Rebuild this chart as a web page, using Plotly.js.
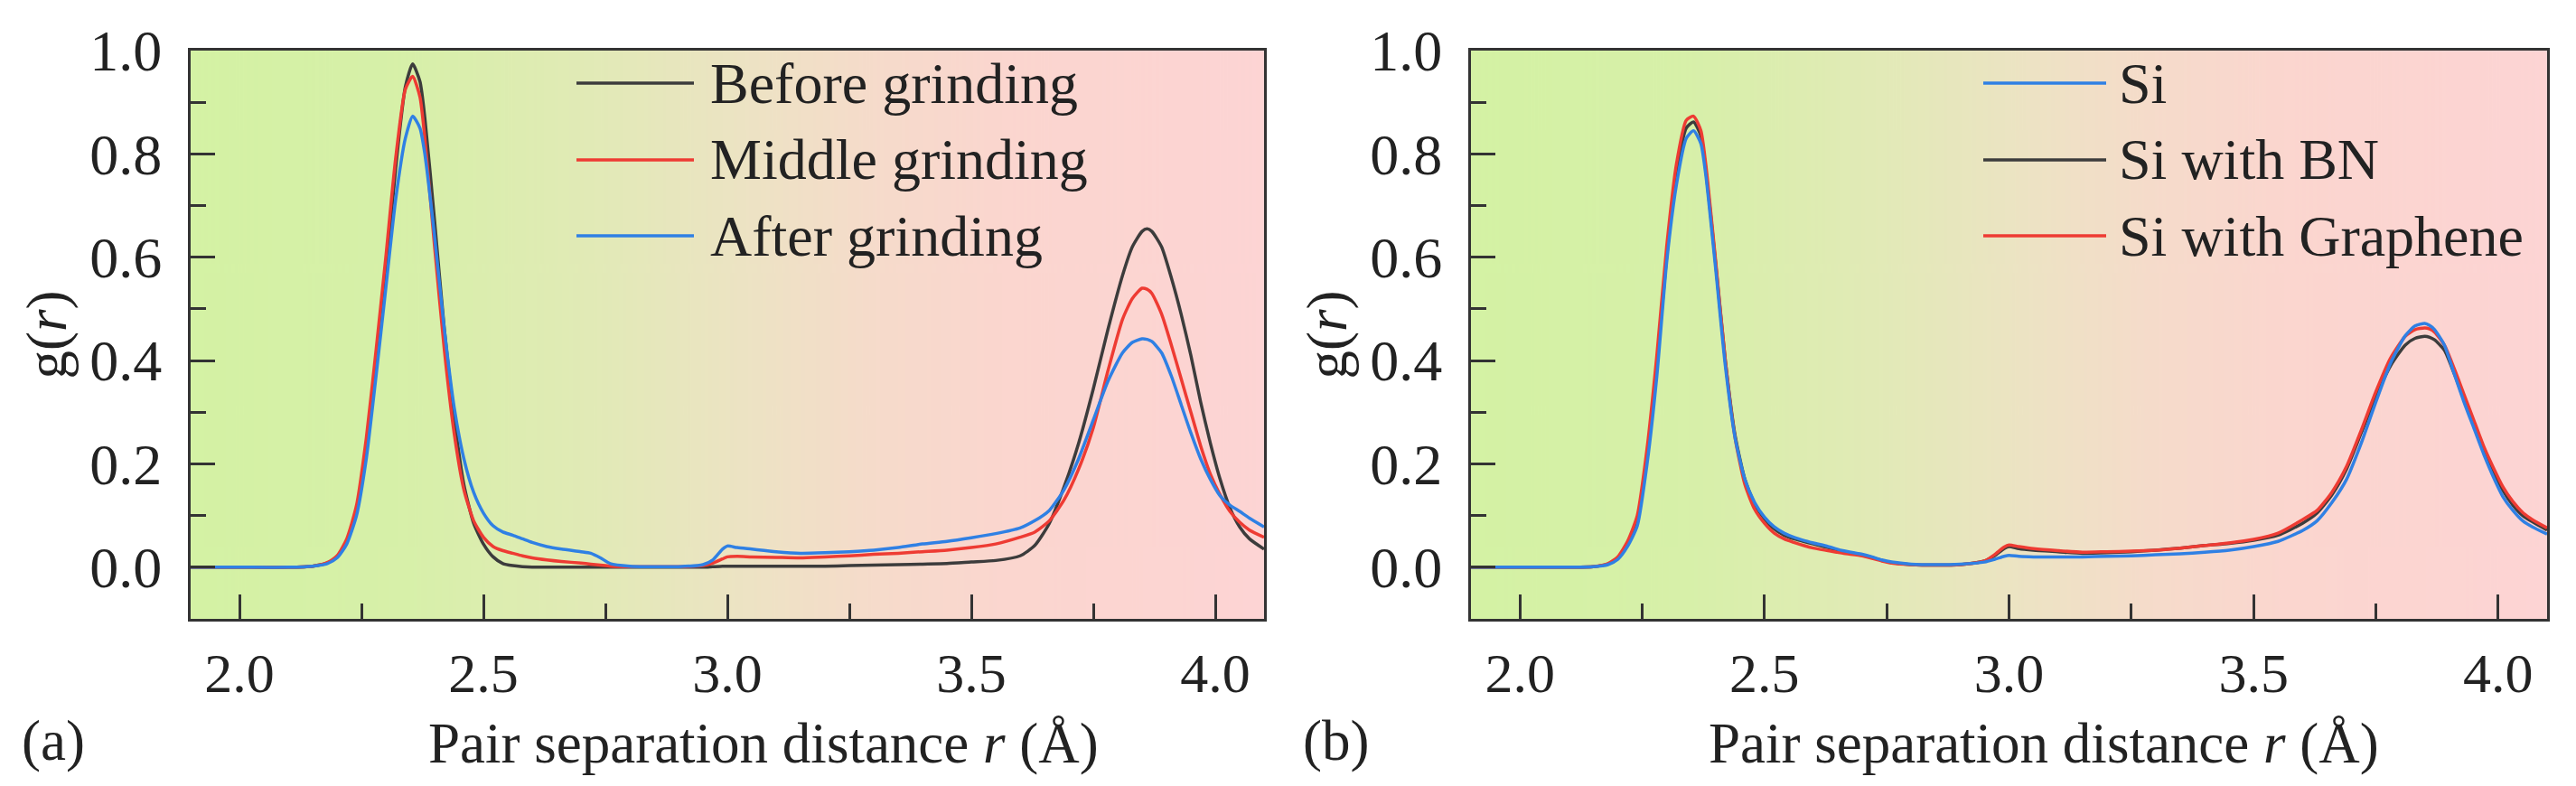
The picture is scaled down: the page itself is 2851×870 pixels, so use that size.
<!DOCTYPE html>
<html>
<head>
<meta charset="utf-8">
<script src="https://cdn.plot.ly/plotly-3.0.1.min.js"></script>
<style>
  html, body { margin: 0; padding: 0; background: #ffffff; }
  #chart { width: 2851px; height: 870px; }
</style>
</head>
<body>
<div id="chart"></div>
<script>
// pair distance r (Å), shared by every curve
const r = [1.90, 2.00, 2.10, 2.15, 2.18, 2.20, 2.22, 2.24, 2.26, 2.28,
           2.30, 2.32, 2.34, 2.355, 2.37, 2.38, 2.40, 2.42, 2.44, 2.46,
           2.48, 2.50, 2.52, 2.54, 2.56, 2.58, 2.60, 2.63, 2.66, 2.70,
           2.72, 2.74, 2.76, 2.80, 2.85, 2.90, 2.95, 2.97, 2.99, 3.00,
           3.02, 3.05, 3.10, 3.15, 3.20, 3.25, 3.30, 3.35, 3.40, 3.45,
           3.50, 3.55, 3.60, 3.63, 3.66, 3.69, 3.72, 3.75, 3.78, 3.81,
           3.83, 3.85, 3.86, 3.87, 3.89, 3.91, 3.93, 3.95, 3.97, 3.99,
           4.01, 4.03, 4.05, 4.07, 4.10];

// (a) grinding stages
const beforeGrinding = [0, 0, 0, 0.002, 0.008, 0.02, 0.05, 0.11, 0.23, 0.40,
           0.57, 0.77, 0.93, 0.974, 0.94, 0.87, 0.67, 0.46, 0.29, 0.16,
           0.085, 0.045, 0.02, 0.007, 0.003, 0.001, 0, 0, 0, 0,
           0, 0, 0, 0, 0, 0, 0, 0.001, 0.002, 0.002,
           0.002, 0.002, 0.002, 0.002, 0.002, 0.003, 0.004, 0.005, 0.006, 0.007,
           0.01, 0.013, 0.022, 0.042, 0.085, 0.155, 0.24, 0.345, 0.46, 0.565,
           0.62, 0.65, 0.655, 0.65, 0.62, 0.56, 0.49, 0.41, 0.32, 0.24,
           0.17, 0.115, 0.078, 0.055, 0.035];
const middleGrinding = [0, 0, 0, 0.002, 0.009, 0.022, 0.055, 0.12, 0.25, 0.42,
           0.60, 0.79, 0.925, 0.95, 0.91, 0.83, 0.62, 0.42, 0.26, 0.15,
           0.09, 0.058, 0.04, 0.032, 0.027, 0.022, 0.018, 0.014, 0.011, 0.008,
           0.006, 0.004, 0.002, 0.001, 0.001, 0.001, 0.003, 0.008, 0.016, 0.02,
           0.021, 0.02, 0.019, 0.018, 0.02, 0.022, 0.025, 0.027, 0.03, 0.033,
           0.038, 0.045, 0.058, 0.068, 0.09, 0.13, 0.19, 0.27, 0.38, 0.48,
           0.52, 0.54, 0.538, 0.53, 0.49, 0.43, 0.365, 0.30, 0.235, 0.18,
           0.14, 0.108, 0.087, 0.072, 0.058];
const afterGrinding = [0, 0, 0, 0.002, 0.007, 0.018, 0.045, 0.10, 0.21, 0.37,
           0.54, 0.71, 0.83, 0.873, 0.85, 0.80, 0.64, 0.46, 0.31, 0.21,
           0.145, 0.105, 0.08, 0.068, 0.062, 0.055, 0.048, 0.04, 0.035, 0.03,
           0.027, 0.018, 0.007, 0.002, 0.001, 0.001, 0.005, 0.014, 0.035, 0.041,
           0.038, 0.035, 0.03, 0.027, 0.028, 0.03, 0.033, 0.038, 0.045, 0.05,
           0.057, 0.065, 0.076, 0.09, 0.11, 0.15, 0.21, 0.285, 0.36, 0.415,
           0.435, 0.442, 0.441, 0.437, 0.415, 0.37, 0.315, 0.26, 0.21, 0.17,
           0.138, 0.12, 0.108, 0.095, 0.078];

// (b) additives
const si = [0, 0, 0, 0.001, 0.005, 0.015, 0.04, 0.08, 0.20, 0.37,
           0.59, 0.74, 0.83, 0.845, 0.82, 0.76, 0.58, 0.39, 0.25, 0.17,
           0.125, 0.097, 0.078, 0.066, 0.058, 0.052, 0.047, 0.04, 0.032, 0.025,
           0.02, 0.014, 0.01, 0.006, 0.005, 0.006, 0.01, 0.015, 0.021, 0.023,
           0.021, 0.02, 0.02, 0.02, 0.021, 0.022, 0.024, 0.026, 0.029, 0.033,
           0.04, 0.05, 0.071, 0.09, 0.125, 0.17, 0.24, 0.32, 0.395, 0.448,
           0.467, 0.472, 0.468, 0.46, 0.43, 0.375, 0.32, 0.27, 0.22, 0.175,
           0.136, 0.11, 0.09, 0.078, 0.064];
const siBN = [0, 0, 0, 0.001, 0.006, 0.017, 0.045, 0.09, 0.215, 0.39,
           0.60, 0.76, 0.85, 0.862, 0.835, 0.77, 0.59, 0.40, 0.255, 0.17,
           0.122, 0.094, 0.074, 0.062, 0.055, 0.05, 0.045, 0.038, 0.03, 0.024,
           0.019, 0.013, 0.009, 0.005, 0.004, 0.005, 0.012, 0.022, 0.036, 0.04,
           0.036, 0.033, 0.03, 0.027, 0.028, 0.03, 0.033, 0.037, 0.042, 0.046,
           0.052, 0.062, 0.085, 0.105, 0.14, 0.19, 0.26, 0.33, 0.39, 0.43,
           0.443, 0.447, 0.445, 0.44, 0.42, 0.375, 0.325, 0.275, 0.228, 0.185,
           0.148, 0.12, 0.10, 0.088, 0.072];
const siGraphene = [0, 0, 0, 0.001, 0.007, 0.02, 0.05, 0.10, 0.23, 0.41,
           0.62, 0.78, 0.865, 0.873, 0.845, 0.78, 0.595, 0.40, 0.25, 0.16,
           0.112, 0.085, 0.066, 0.055, 0.048, 0.042, 0.037, 0.032, 0.027, 0.022,
           0.017, 0.012, 0.008, 0.005, 0.004, 0.005, 0.012, 0.024, 0.039, 0.043,
           0.04, 0.036, 0.032, 0.029, 0.03, 0.031, 0.033, 0.037, 0.042, 0.047,
           0.054, 0.066, 0.092, 0.11, 0.145, 0.195, 0.265, 0.34, 0.405, 0.447,
           0.46, 0.463, 0.461, 0.455, 0.43, 0.385, 0.335, 0.285, 0.235, 0.193,
           0.155, 0.127, 0.106, 0.092, 0.076];

const namesA = ["Before grinding", "Middle grinding", "After grinding"];
const namesB = ["Si", "Si with BN", "Si with Graphene"];
const xTitle = "Pair separation distance <i>r</i> (Å)";
const yTitle = "g(<i>r</i>)";

const W = 2851, H = 870;
const DARK = "#3c3c3c", RED = "#ee3b33", BLUE = "#2f80e4";
const FONT = "Liberation Serif, Times New Roman, serif";
const px = (x) => x / W;      // pixel -> paper x
const py = (y) => 1 - y / H;  // pixel -> paper y

// green -> pink background, painted once on a canvas
function gradientImage() {
  const c = document.createElement("canvas");
  c.width = 600; c.height = 4;
  const g = c.getContext("2d");
  const grad = g.createLinearGradient(0, 0, 600, 0);
  grad.addColorStop(0.00, "#d4f2a4");
  grad.addColorStop(0.20, "#d7f0a9");
  grad.addColorStop(0.38, "#e2eab7");
  grad.addColorStop(0.52, "#ede3c4");
  grad.addColorStop(0.64, "#f6dbcb");
  grad.addColorStop(0.76, "#fbd6cf");
  grad.addColorStop(1.00, "#fdd4d4");
  g.fillStyle = grad;
  g.fillRect(0, 0, 600, 4);
  return c.toDataURL("image/png");
}
const bg = gradientImage();

function line(y, name, color, xa, ya) {
  return {
    x: r, y: y, name: name, type: "scatter", mode: "lines",
    xaxis: xa, yaxis: ya,
    line: { color: color, width: 3.5, shape: "spline", smoothing: 0.6 },
    showlegend: false, hoverinfo: "skip"
  };
}

const data = [
  line(beforeGrinding, namesA[0], DARK, "x", "y"),
  line(middleGrinding, namesA[1], RED, "x", "y"),
  line(afterGrinding, namesA[2], BLUE, "x", "y"),
  line(siBN, namesB[1], DARK, "x2", "y2"),
  line(siGraphene, namesB[2], RED, "x2", "y2"),
  line(si, namesB[0], BLUE, "x2", "y2")
];

const textFont = { family: FONT, size: 63, color: "#222" };

function xAxis(domain, anchor) {
  return {
    domain: domain, anchor: anchor, range: [1.9, 4.1],
    tick0: 2.0, dtick: 0.5, tickformat: ".1f",
    ticks: "inside", ticklen: 27, tickwidth: 3, tickcolor: "#333",
    minor: { tick0: 2.0, dtick: 0.25, ticks: "inside", ticklen: 17, tickwidth: 3, tickcolor: "#333", showgrid: false },
    showline: true, linewidth: 3, linecolor: "#333", mirror: true,
    showgrid: false, zeroline: false,
    ticklabelstandoff: 4,
    tickfont: { family: FONT, size: 62, color: "#222" }
  };
}
function yAxis(anchor) {
  return {
    domain: [py(685), py(56)], anchor: anchor, range: [-0.1, 1.0],
    tick0: 0, dtick: 0.2, tickformat: ".1f",
    ticks: "inside", ticklen: 27, tickwidth: 3, tickcolor: "#333",
    minor: { tick0: 0, dtick: 0.1, ticks: "inside", ticklen: 17, tickwidth: 3, tickcolor: "#333", showgrid: false },
    showline: true, linewidth: 3, linecolor: "#333", mirror: true,
    showgrid: false, zeroline: false,
    ticklabelstandoff: 16,
    tickfont: { family: FONT, size: 64, color: "#222" },
    title: { text: yTitle, standoff: 6, font: textFont }
  };
}

// hand-made legends: long line samples like the original figure
const shapes = [];
const annotations = [];
const legendRows = [92, 177, 261];
function legend(names, colors, x0, x1, xt) {
  names.forEach((name, i) => {
    shapes.push({
      type: "line", xref: "paper", yref: "paper",
      x0: px(x0), x1: px(x1), y0: py(legendRows[i]), y1: py(legendRows[i]),
      line: { color: colors[i], width: 3.5 }
    });
    annotations.push({
      xref: "paper", yref: "paper", x: px(xt), y: py(legendRows[i]),
      xanchor: "left", yanchor: "middle", showarrow: false, text: name,
      font: { family: FONT, size: 64, color: "#222" }
    });
  });
}
legend(namesA, [DARK, RED, BLUE], 638, 768, 784);
legend(namesB, [BLUE, DARK, RED], 2195, 2331, 2343);

// x titles sit a little right of the axis centre in the original
annotations.push(
  { xref: "paper", yref: "paper", x: px(845), y: py(823), xanchor: "center", yanchor: "middle",
    showarrow: false, text: xTitle, font: textFont },
  { xref: "paper", yref: "paper", x: px(2262), y: py(823), xanchor: "center", yanchor: "middle",
    showarrow: false, text: xTitle, font: textFont },
  { xref: "paper", yref: "paper", x: px(22), y: py(820), xanchor: "left", yanchor: "middle",
    showarrow: false, text: "(a)", font: textFont },
  { xref: "paper", yref: "paper", x: px(1440), y: py(820), xanchor: "left", yanchor: "middle",
    showarrow: false, text: "(b)", font: textFont }
);

const images = [["x", "y"], ["x2", "y2"]].map(([xr, yr]) => ({
  source: bg, xref: xr + " domain", yref: yr + " domain",
  x: 0, y: 1, sizex: 1, sizey: 1, xanchor: "left", yanchor: "top",
  sizing: "stretch", layer: "below"
}));

const layout = {
  width: W, height: H,
  margin: { l: 0, r: 0, t: 0, b: 0 },
  paper_bgcolor: "#ffffff",
  plot_bgcolor: "rgba(0,0,0,0)",
  showlegend: false,
  xaxis: xAxis([px(211), px(1399)], "y"),
  yaxis: yAxis("x"),
  xaxis2: xAxis([px(1628), px(2819)], "y2"),
  yaxis2: yAxis("x2"),
  shapes: shapes,
  annotations: annotations,
  images: images
};

Plotly.newPlot("chart", data, layout, { staticPlot: true, displayModeBar: false });
</script>
</body>
</html>
